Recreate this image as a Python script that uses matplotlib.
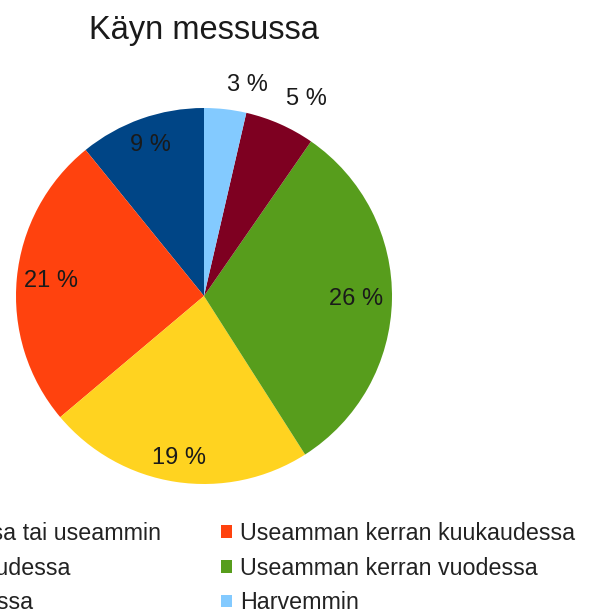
import matplotlib.pyplot as plt
from matplotlib.patches import Patch
import numpy as np

plt.rcParams['font.family'] = ['Liberation Sans', 'DejaVu Sans']

title = "Käyn messussa"
categories = ["Kerran viikossa tai useammin", "Useamman kerran kuukaudessa",
              "Kerran kuukaudessa", "Useamman kerran vuodessa",
              "Kerran vuodessa", "Harvemmin"]
values = [9, 21, 19, 26, 5, 3]
colors = ['#004586', '#ff420e', '#ffd320', '#579d1c', '#7e0021', '#83caff']
# radial position of each value label (fraction of radius); >1 means outside
label_r = [0.85, 0.82, 0.87, 0.81, 1.08, 1.07]

W, H = 590, 612
fig = plt.figure(figsize=(W / 100, H / 100), dpi=100)

cx, cy, R = 204, 296, 188
ax = fig.add_axes([(cx - R) / W, (H - cy - R) / H, 2 * R / W, 2 * R / H])
wedges, _ = ax.pie(values, colors=colors, startangle=90, counterclock=True,
                   radius=1, wedgeprops=dict(linewidth=0))
ax.set_xlim(-1, 1)
ax.set_ylim(-1, 1)
ax.set_aspect('equal')
ax.axis('off')

for w, v, r in zip(wedges, values, label_r):
    mid = np.deg2rad((w.theta1 + w.theta2) / 2)
    if r > 1:
        ha, va = 'left', 'bottom'
    else:
        ha, va = 'center', 'center'
    ax.text(r * np.cos(mid), r * np.sin(mid), f"{v} %", ha=ha, va=va,
            fontsize=17, color='#1a1a1a', clip_on=False)

fig.text(cx / W, 1 - 30 / H, title, ha='center', va='center', fontsize=23.5, color='#1a1a1a')

# legend reads row by row, matplotlib fills columns first
order = [0, 2, 4, 1, 3, 5]
handles = [Patch(facecolor=colors[i], edgecolor='none') for i in order]
labels = [categories[i] for i in order]
fig.legend(handles, labels, ncol=2, loc='upper left',
           bbox_to_anchor=(-162 / W, 1 - 522 / H), frameon=False,
           fontsize=16.75, borderpad=0, borderaxespad=0,
           handlelength=0.45, handleheight=0.45, handletextpad=0.35,
           columnspacing=2.6, labelspacing=0.5, labelcolor='#222222')

fig.savefig('out.png', dpi=100)
